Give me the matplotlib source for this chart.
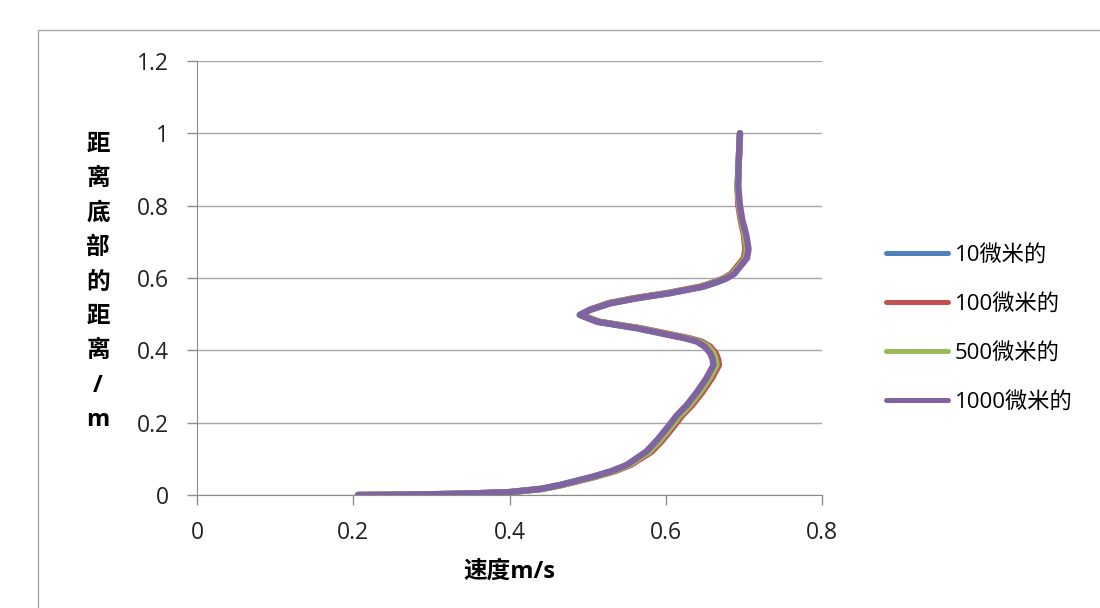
import numpy as np
import matplotlib.pyplot as plt
from matplotlib.patches import Rectangle

plt.rcParams['font.family'] = ['Open Sans', 'Noto Sans CJK SC', 'DejaVu Sans']

# height above bottom (m)
height = [0.000, 0.0005, 0.002, 0.004, 0.008, 0.017, 0.028, 0.051, 0.066, 0.083,
          0.120, 0.152, 0.189, 0.220, 0.249, 0.285, 0.323, 0.359, 0.375, 0.392,
          0.410, 0.424, 0.433, 0.442, 0.461, 0.479, 0.498, 0.512, 0.530, 0.544,
          0.558, 0.576, 0.588, 0.599, 0.612, 0.631, 0.655, 0.680, 0.720, 0.760,
          0.800, 0.850, 0.900, 0.950, 1.000]

# velocity (m/s) for each particle size
v_10 = [0.206, 0.250, 0.300, 0.350, 0.400, 0.441, 0.466, 0.509, 0.532, 0.552,
        0.578, 0.592, 0.606, 0.617, 0.630, 0.643, 0.655, 0.664, 0.663, 0.660,
        0.653, 0.643, 0.628, 0.608, 0.565, 0.513, 0.490, 0.503, 0.528, 0.562,
        0.604, 0.647, 0.664, 0.677, 0.687, 0.694, 0.703, 0.705, 0.702, 0.697,
        0.694, 0.692, 0.693, 0.694, 0.695]
v_100 = [0.206, 0.250, 0.301, 0.351, 0.402, 0.443, 0.468, 0.511, 0.535, 0.555,
         0.582, 0.596, 0.610, 0.621, 0.634, 0.647, 0.659, 0.668, 0.667, 0.664,
         0.657, 0.646, 0.631, 0.611, 0.568, 0.515, 0.492, 0.503, 0.526, 0.559,
         0.601, 0.644, 0.661, 0.674, 0.684, 0.691, 0.700, 0.702, 0.700, 0.696,
         0.693, 0.692, 0.693, 0.694, 0.695]
v_500 = [0.206, 0.250, 0.300, 0.350, 0.401, 0.442, 0.467, 0.510, 0.533, 0.553,
         0.579, 0.593, 0.607, 0.618, 0.631, 0.644, 0.656, 0.665, 0.664, 0.661,
         0.654, 0.643, 0.628, 0.608, 0.566, 0.514, 0.491, 0.503, 0.527, 0.561,
         0.603, 0.646, 0.663, 0.676, 0.686, 0.693, 0.702, 0.704, 0.701, 0.697,
         0.694, 0.692, 0.693, 0.694, 0.695]
v_1000 = [0.206, 0.250, 0.300, 0.350, 0.400, 0.440, 0.465, 0.507, 0.530, 0.550,
          0.575, 0.589, 0.603, 0.614, 0.627, 0.640, 0.652, 0.661, 0.660, 0.657,
          0.650, 0.640, 0.625, 0.605, 0.563, 0.512, 0.490, 0.503, 0.529, 0.563,
          0.605, 0.648, 0.665, 0.678, 0.688, 0.695, 0.704, 0.706, 0.703, 0.698,
          0.695, 0.693, 0.693, 0.694, 0.695]

labels = ['10微米的', '100微米的', '500微米的', '1000微米的']
colors = ['#4F81BD', '#C0504D', '#9BBB59', '#8064A2']

fig = plt.figure(figsize=(11, 6.08), dpi=100)
W, H = 1100, 608

# chart area border
fig.patches.append(Rectangle((38 / W, -0.1), 1.2, 1 - 30 / H + 0.1,
                             transform=fig.transFigure, fill=False,
                             edgecolor='#A6A6A6', linewidth=1))

ax = fig.add_axes([197 / W, 1 - 495 / H, 625 / W, 434 / H])

for v, lab, c in zip([v_10, v_100, v_500, v_1000], labels, colors):
    ax.plot(v, height, color=c, lw=4.6, label=lab,
            solid_capstyle='round', solid_joinstyle='round')

ax.set_xlim(0, 0.8)
ax.set_ylim(0, 1.2)
ax.set_xticks([0, 0.2, 0.4, 0.6, 0.8])
ax.set_xticklabels(['0', '0.2', '0.4', '0.6', '0.8'])
ax.set_yticks([0, 0.2, 0.4, 0.6, 0.8, 1.0, 1.2])
ax.set_yticklabels(['0', '0.2', '0.4', '0.6', '0.8', '1', '1.2'])

ax.grid(axis='y', color='#A6A6A6', lw=1)
ax.set_axisbelow(True)
for s in ['top', 'right']:
    ax.spines[s].set_visible(False)
for s in ['left', 'bottom']:
    ax.spines[s].set_color('#8C8C8C')
ax.tick_params(axis='both', color='#8C8C8C', length=7, width=1,
               labelsize=16.5, labelcolor='#222222')
ax.tick_params(axis='y', pad=13)
ax.tick_params(axis='x', pad=12)

fig.text(509 / W, 1 - 572 / H, '速度m/s', ha='center', va='center',
         fontsize=17, fontweight='bold')

ylab = ['距', '离', '底', '部', '的', '距', '离', '/', 'm']
for i, ch in enumerate(ylab):
    fig.text(98 / W, 1 - (145 + i * 34.4) / H, ch, ha='center', va='center',
             fontsize=17, fontweight='bold')

leg = ax.legend(loc='upper left', bbox_to_anchor=(886 / W, 1 - 245 / H),
                bbox_transform=fig.transFigure, frameon=False, fontsize=16,
                handlelength=2.8, handletextpad=0.3, labelspacing=1.25,
                borderpad=0, borderaxespad=0)
for ln in leg.get_lines():
    ln.set_linewidth(3.6)

fig.savefig('out.png', dpi=100)
